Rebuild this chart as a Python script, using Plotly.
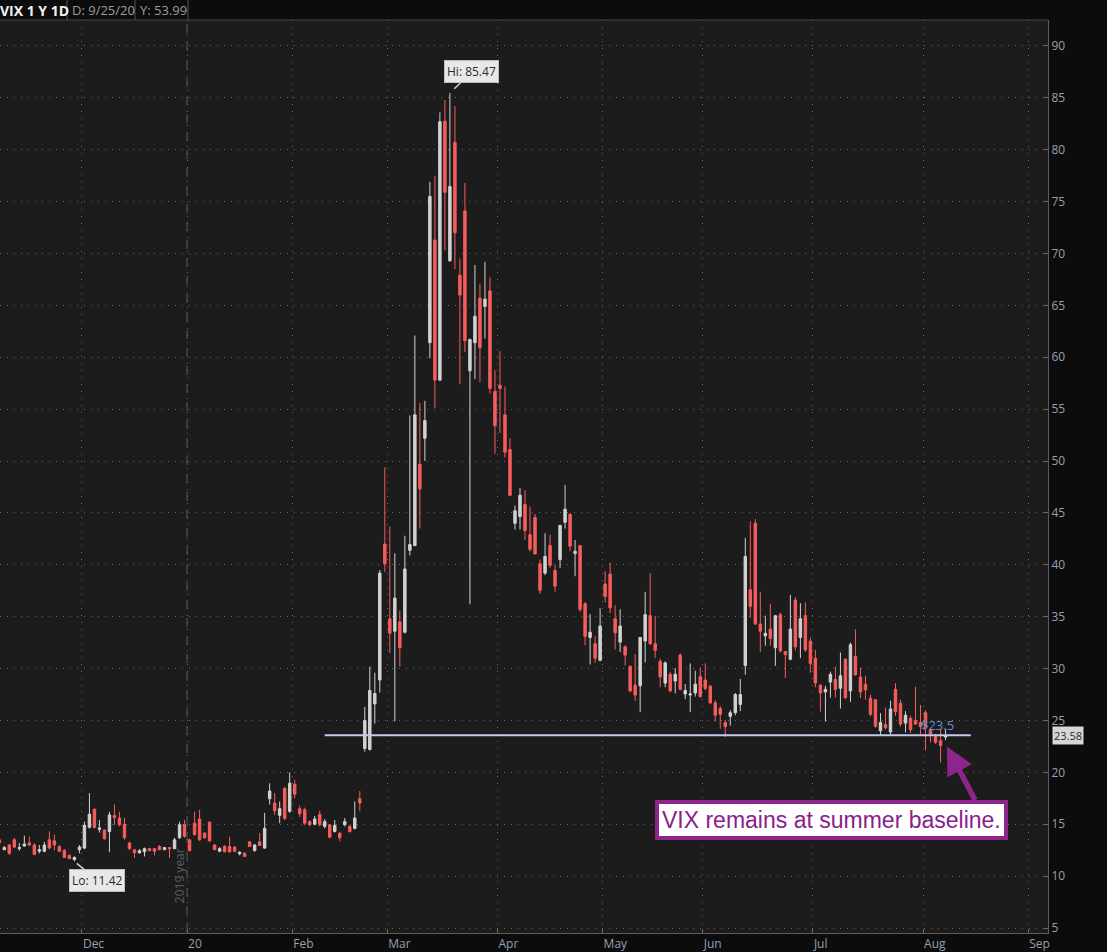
import pandas as pd
import plotly.graph_objects as go

# trading calendar shown on the chart (NYSE holidays removed)
holidays = ["2019-11-28", "2019-12-25", "2020-01-01", "2020-01-20",
            "2020-02-17", "2020-04-10", "2020-05-25", "2020-07-03", "2020-09-07"]
days = pd.bdate_range("2019-11-06", "2020-08-07", freq="C", holidays=holidays[:-1])
dates = days + pd.Timedelta(hours=12)

# VIX daily OHLC, Nov 6 2019 -> Aug 7 2020
opens = [
    13.5, 12.55, 13.0, 13.5, 12.65, 12.9, 13.2, 13.0, 12.4, 12.4, 13.5, 13.4, 12.85, 12.5, 12.0, 11.6, 12.55,
    12.7, 14.7, 16.45, 14.5, 14.45, 14.3, 15.85, 15.6, 15.0, 13.2, 12.55, 12.25, 12.35, 12.65, 12.65, 12.85, 12.55, 12.75, 12.65, 13.7, 14.95,
    13.5, 15.1, 15.5, 14.15, 15.2, 13.0, 12.4, 12.85, 12.85, 12.8, 12.15, 12.2, 13.3, 12.45, 13.3, 12.7, 17.45, 17.05, 15.85, 18.45, 16.25,
    18.85, 16.5, 16.4, 15.25, 15.0, 15.95, 14.8, 14.95, 14.3, 14.15, 14.95, 14.8, 14.6, 17.45, 22.3, 22.2, 26.6, 28.9, 42.0,
    34.8, 33.6, 34.5, 33.5, 41.4, 41.85, 49.7, 52.2, 61.4, 71.3, 57.8, 82.75, 69.3, 80.7, 67.9, 74.1, 58.7, 61.4, 65.7, 64.9, 66.4, 56.7,
    57.3, 54.45, 51.1, 44.0, 44.65, 45.8, 42.9, 44.55, 40.1, 39.2, 41.85, 39.45, 40.5, 44.1, 44.85, 41.1, 41.85, 36.25, 33.0, 32.4, 30.8,
    38.15, 39.1, 34.8, 32.55, 32.1, 30.2, 28.4, 28.35, 32.65, 35.1, 32.4, 30.7, 28.6, 29.45, 28.8, 31.3, 27.55, 27.45, 27.65, 29.25,
    28.9, 28.3, 26.7, 26.15, 24.8, 25.4, 25.75, 26.55, 30.3, 37.6, 44.0, 34.3, 33.15, 33.8, 32.0, 35.2, 31.65, 30.9, 36.6, 33.0, 35.1, 32.65,
    31.0, 28.4, 27.75, 28.7, 28.95, 28.1, 30.9, 27.85, 31.2, 29.2, 28.5, 27.15, 27.0, 24.0, 24.6, 23.9, 28.0, 26.65, 24.75, 25.2, 25.0, 24.8,
    25.75, 24.1, 23.45, 23.05, 23.4,
]
highs = [
    13.7, 12.9, 13.1, 13.7, 13.2, 13.9, 13.8, 13.2, 13.0, 13.3, 14.3, 14.0, 13.0, 12.6, 12.1, 11.9, 13.0,
    15.25, 18.0, 16.5, 15.4, 14.5, 16.2, 16.9, 16.2, 15.6, 13.3, 12.6, 12.6, 12.75, 12.7, 12.7, 13.0, 12.8, 12.8, 13.7, 15.25, 15.4,
    13.6, 16.2, 16.4, 14.2, 15.3, 13.1, 12.8, 13.0, 13.8, 12.9, 12.4, 12.3, 13.4, 13.1, 14.15, 16.1, 18.95, 18.0, 17.2, 18.6, 20.0,
    19.3, 16.8, 16.6, 15.4, 15.8, 16.3, 15.5, 15.0, 15.4, 14.2, 15.6, 14.9, 17.2, 18.2, 26.3, 30.2, 29.6, 39.5, 49.4,
    43.7, 41.1, 35.6, 42.8, 54.4, 62.1, 55.6, 55.8, 76.9, 77.5, 83.6, 84.8, 85.47, 84.2, 69.5, 76.8, 61.8, 68.9, 67.1, 69.2, 67.7, 58.75,
    60.6, 57.2, 52.2, 45.7, 47.4, 47.2, 45.6, 44.9, 40.5, 43.05, 42.9, 40.0, 43.85, 47.7, 45.0, 42.4, 41.9, 36.4, 35.25, 33.1, 35.8,
    39.4, 40.2, 36.1, 35.7, 32.25, 30.35, 31.4, 33.05, 37.4, 39.2, 35.05, 30.95, 30.7, 29.7, 30.05, 31.45, 28.5, 30.5, 29.8, 30.1,
    30.5, 28.45, 26.95, 26.4, 25.05, 26.0, 27.65, 29.0, 42.6, 44.2, 44.4, 37.4, 35.1, 36.25, 35.15, 35.4, 31.7, 37.1, 36.9, 36.3, 36.35, 33.0,
    31.8, 28.5, 28.35, 29.7, 30.2, 31.55, 31.0, 32.5, 33.8, 30.1, 29.3, 27.5, 27.05, 25.7, 26.25, 26.9, 28.6, 27.0, 25.9, 25.45, 28.25, 26.5,
    26.0, 24.3, 23.7, 24.15, 24.2,
]
lows = [
    13.1, 12.5, 12.05, 12.7, 12.45, 12.85, 12.9, 12.0, 12.2, 12.3, 12.6, 12.5, 12.3, 11.75, 11.6, 11.42, 12.2,
    12.6, 14.6, 14.6, 14.2, 13.5, 12.3, 14.9, 14.8, 13.5, 12.5, 11.75, 12.15, 11.9, 12.4, 12.0, 12.5, 12.5, 11.75, 12.6, 13.6, 13.7,
    12.4, 13.9, 13.4, 13.6, 13.3, 12.5, 12.3, 12.3, 12.25, 12.3, 12.0, 11.85, 12.8, 12.4, 12.9, 12.65, 16.9, 15.9, 15.1, 15.4, 16.1,
    17.5, 15.7, 14.9, 14.8, 14.9, 14.8, 14.6, 13.65, 14.2, 13.35, 14.8, 14.2, 14.5, 16.25, 22.0, 22.1, 24.7, 27.7, 39.3,
    31.5, 24.9, 30.2, 33.4, 40.9, 41.8, 43.5, 50.0, 59.9, 55.1, 57.7, 70.3, 69.2, 68.5, 57.4, 60.5, 36.2, 57.9, 57.6, 61.8, 56.5, 50.7,
    52.7, 50.35, 46.6, 43.4, 43.4, 42.4, 41.3, 41.0, 37.2, 39.0, 39.7, 37.4, 39.7, 43.5, 41.3, 38.9, 35.45, 32.25, 30.4, 30.55, 30.7,
    36.4, 35.35, 31.85, 31.6, 30.3, 27.7, 26.9, 25.8, 30.6, 32.25, 31.0, 28.2, 28.2, 27.7, 27.6, 27.9, 27.05, 25.8, 27.3, 27.2,
    27.9, 26.55, 24.9, 24.2, 23.4, 24.5, 25.5, 25.9, 29.4, 34.9, 34.2, 31.6, 32.2, 32.2, 30.25, 31.55, 29.1, 30.8, 31.75, 31.0, 31.6, 29.6,
    28.2, 25.85, 24.9, 27.2, 27.2, 26.15, 27.05, 26.8, 29.3, 27.15, 27.0, 25.4, 24.3, 23.6, 24.15, 23.6, 25.45, 24.4, 23.85, 23.8, 24.6, 23.6,
    22.1, 22.9, 22.75, 20.95, 23.1,
]
closes = [
    13.2, 12.75, 12.2, 12.8, 12.75, 13.1, 13.0, 12.1, 12.55, 13.0, 12.7, 13.0, 12.4, 11.8, 11.7, 11.8, 12.8,
    14.9, 15.97, 14.7, 14.65, 13.6, 15.9, 15.65, 14.95, 13.7, 12.65, 12.25, 12.45, 12.65, 12.45, 12.4, 12.55, 12.75, 12.65, 13.5, 14.95, 13.85,
    12.45, 14.0, 13.5, 13.7, 13.4, 12.55, 12.65, 12.35, 12.35, 12.4, 12.3, 11.9, 12.85, 13.0, 12.95, 14.6, 18.2, 16.3, 16.5, 15.55, 18.95,
    17.9, 16.0, 15.1, 14.95, 15.5, 14.95, 15.25, 13.75, 14.9, 13.7, 15.25, 14.3, 15.6, 17.05, 25.0, 27.9, 27.6, 39.2, 40.1,
    33.4, 36.8, 32.0, 39.6, 41.95, 54.45, 47.3, 53.9, 75.5, 57.8, 82.7, 75.9, 76.45, 72.0, 66.0, 61.6, 61.7, 63.95, 60.9, 65.6, 57.0, 53.4,
    57.0, 50.85, 46.7, 45.2, 46.7, 43.3, 41.5, 41.05, 37.55, 40.8, 39.95, 37.95, 43.8, 45.35, 41.8, 41.3, 35.7, 33.1, 33.5, 31.0, 34.1,
    36.95, 35.85, 33.45, 34.1, 31.3, 27.85, 27.45, 33.0, 35.2, 32.4, 31.75, 29.2, 30.55, 27.85, 29.45, 28.0, 27.9, 27.55, 28.5, 27.3,
    28.1, 26.7, 25.5, 25.6, 24.4, 25.75, 27.5, 27.5, 40.8, 36.0, 34.3, 33.6, 33.4, 32.9, 35.1, 31.7, 31.35, 33.8, 32.1, 34.8, 31.8, 30.5,
    28.6, 27.65, 28.0, 29.45, 28.0, 29.3, 27.2, 32.3, 29.4, 27.75, 27.95, 25.6, 24.45, 24.8, 24.3, 26.1, 25.85, 24.65, 25.5, 24.1, 24.65, 24.4,
    24.4, 23.7, 22.9, 22.6, 23.55,
]

tick_dates = ["2019-12-02", "2020-01-02", "2020-02-03", "2020-03-02", "2020-04-01",
              "2020-05-01", "2020-06-01", "2020-07-01", "2020-08-03", "2020-09-01"]
tick_text = ["Dec", "20", "Feb", "Mar", "Apr", "May", "Jun", "Jul", "Aug", "Sep"]

baseline = 23.58
hi_val, lo_val = max(highs), min(lows)
hi_date = dates[highs.index(hi_val)]
lo_date = dates[lows.index(lo_val)]

assert len(dates) == len(opens) == len(highs) == len(lows) == len(closes)

UP = "#d2d2d2"
DOWN = "#f65d5d"
AXIS_TXT = "#8fa2b4"
GRID = dict(showgrid=True, gridcolor="#666666", griddash="1px,6px", gridwidth=1)

fig = go.Figure(go.Candlestick(
    x=dates, open=opens, high=highs, low=lows, close=closes,
    increasing=dict(line=dict(color=UP, width=1), fillcolor=UP),
    decreasing=dict(line=dict(color=DOWN, width=1), fillcolor=DOWN),
    whiskerwidth=0, showlegend=False, hoverinfo="skip",
))

fig.update_layout(
    width=1107, height=952,
    margin=dict(l=0, r=59, t=20, b=17),
    paper_bgcolor="#0c0c0c", plot_bgcolor="#1c1c1c",
    font=dict(family="Open Sans", size=12, color=AXIS_TXT),
    showlegend=False,
    xaxis=dict(
        type="date",
        range=["2019-11-06 15:20", "2020-09-04 23:00"],
        rangeslider=dict(visible=False),
        rangebreaks=[dict(bounds=["sat", "mon"]), dict(values=holidays)],
        tickvals=tick_dates, ticktext=tick_text,
        ticklabelposition="outside right",
        ticks="inside", ticklen=4, tickcolor="#6a6a6a",
        showline=True, linecolor="#5c5c5c", linewidth=1,
        zeroline=False, tickfont=dict(size=12, color=AXIS_TXT),
        **GRID,
    ),
    yaxis=dict(
        side="right", range=[4.52, 92.5], tick0=0, dtick=5,
        ticks="inside", ticklen=4, tickcolor="#6a6a6a",
        showline=True, linecolor="#5c5c5c", linewidth=1,
        zeroline=False, tickfont=dict(size=12, color=AXIS_TXT),
        **GRID,
    ),
)

# year separator
fig.add_shape(type="line", xref="x", yref="paper", x0="2020-01-02", x1="2020-01-02",
              y0=0, y1=1, line=dict(color="#5a5a5a", width=1, dash="dash"))
fig.add_annotation(x="2020-01-02", y=10, xref="x", yref="y", xshift=-8,
                   text="2019 year", textangle=-90, showarrow=False,
                   font=dict(size=12, color="#5e5e5e"))

# summer baseline
fig.add_shape(type="line", xref="x", yref="y", x0="2020-02-11 12:00", x1="2020-08-14 13:00",
              y0=baseline, y1=baseline, line=dict(color="#c6c6f6", width=2))
fig.add_annotation(xref="paper", x=1, y=baseline, yref="y", xanchor="left", xshift=4,
                   text=f"{baseline:.2f}", showarrow=False, bgcolor="#d6d6d6",
                   borderpad=1, font=dict(size=11, color="#2a2a2a"))
fig.add_annotation(x="2020-08-05 19:00", y=24.6, text="$23.5", showarrow=False,
                   font=dict(size=13, color="#5f8fd8"))

# hi / lo bubbles
fig.add_annotation(x=hi_date, y=hi_val, text=f"Hi: {hi_val:.2f}", showarrow=True,
                   ax=22, ay=-21, arrowhead=0, arrowwidth=1.5, arrowcolor="#cfcfcf",
                   standoff=6, bgcolor="#e8e8e8", bordercolor="#bdbdbd", borderwidth=1,
                   borderpad=2, font=dict(size=12, color="#2a2a2a"))
fig.add_annotation(x=lo_date, y=lo_val, text=f"Lo: {lo_val:.2f}", showarrow=True,
                   ax=23, ay=19, arrowhead=0, arrowwidth=1.5, arrowcolor="#cfcfcf",
                   standoff=3, bgcolor="#e8e8e8", bordercolor="#bdbdbd", borderwidth=1,
                   borderpad=2, font=dict(size=12, color="#2a2a2a"))

# callout
PURPLE = "#8c268c"
fig.add_annotation(x="2020-08-07 18:00", y=22.5, text="", showarrow=True,
                   ax=29, ay=55, arrowhead=2, arrowsize=1, arrowwidth=5.5, arrowcolor=PURPLE)
fig.add_annotation(xref="paper", x=831 / 1048, xanchor="center", y=15.4, yref="y",
                   text="VIX remains at summer baseline.", showarrow=False,
                   bgcolor="#ffffff", bordercolor=PURPLE, borderwidth=4, borderpad=3,
                   font=dict(family="Liberation Sans", size=23, color="#8a2089"))

# header strip
hdr_y = 1 + 10 / 915
fig.add_annotation(xref="paper", yref="paper", x=0, y=hdr_y, xanchor="left", yanchor="middle",
                   text="<b>VIX 1 Y 1D</b>", showarrow=False, xshift=-2,
                   font=dict(size=14, color="#f2f2f2"))
fig.add_annotation(xref="paper", yref="paper", x=70 / 1048, y=hdr_y, xanchor="left", yanchor="middle",
                   text="D: 9/25/20", showarrow=False, font=dict(size=13, color="#9c9c9c"))
fig.add_annotation(xref="paper", yref="paper", x=138 / 1048, y=hdr_y, xanchor="left", yanchor="middle",
                   text="Y: 53.99", showarrow=False, font=dict(size=13, color="#9c9c9c"))
for sx in [67, 135, 188]:
    fig.add_shape(type="line", xref="paper", yref="paper", x0=sx / 1048, x1=sx / 1048,
                  y0=1, y1=1 + 20 / 915, line=dict(color="#555555", width=1))
fig.add_shape(type="line", xref="paper", yref="paper", x0=0, x1=1, y0=1, y1=1,
              line=dict(color="#444444", width=1))

fig.write_html(
    "out.html",
    config={"displayModeBar": False},
    post_script="document.body.style.margin='0';document.body.style.background='#0c0c0c';",
)
